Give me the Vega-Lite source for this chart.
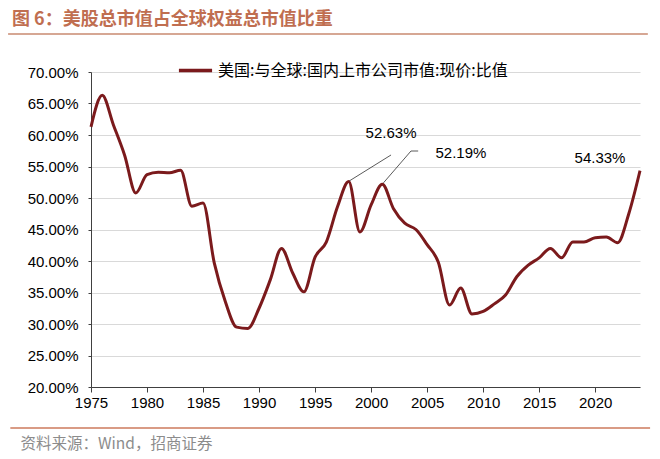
{
  "$schema": "https://vega.github.io/schema/vega-lite/v6.json",
  "autosize": {"type": "none"},
  "width": 549,
  "height": 315,
  "padding": {"left": 91, "top": 72, "right": 20, "bottom": 72},
  "background": "white",
  "config": {
    "font": "Liberation Sans, Noto Sans CJK SC",
    "view": {"stroke": null},
    "axis": {"labelFont": "Liberation Sans", "labelFontSize": 15, "labelColor": "#000000", "labelFlush": false, "labelOverlap": false}
  },
  "title": {
    "text": "图 6：美股总市值占全球权益总市值比重",
    "anchor": "start",
    "frame": "group",
    "dx": -79,
    "offset": 4,
    "font": "Noto Sans CJK SC",
    "fontSize": 18,
    "fontWeight": "bold",
    "color": "#C06E50"
  },
  "datasets": {
    "share": [
      {"year": 1975, "value": 61.3},
      {"year": 1976, "value": 66.3},
      {"year": 1977, "value": 61.6},
      {"year": 1978, "value": 56.8},
      {"year": 1979, "value": 50.8},
      {"year": 1980, "value": 53.7},
      {"year": 1981, "value": 54.1},
      {"year": 1982, "value": 54.0},
      {"year": 1983, "value": 54.4},
      {"year": 1984, "value": 48.7},
      {"year": 1985, "value": 49.2},
      {"year": 1986, "value": 39.7},
      {"year": 1987, "value": 33.5},
      {"year": 1988, "value": 29.5},
      {"year": 1989, "value": 29.3},
      {"year": 1990, "value": 32.5},
      {"year": 1991, "value": 37.0},
      {"year": 1992, "value": 42.0},
      {"year": 1993, "value": 38.1},
      {"year": 1994, "value": 35.1},
      {"year": 1995, "value": 40.6},
      {"year": 1996, "value": 43.0},
      {"year": 1997, "value": 48.6},
      {"year": 1998, "value": 52.63},
      {"year": 1999, "value": 44.6},
      {"year": 2000, "value": 48.9},
      {"year": 2001, "value": 52.19},
      {"year": 2002, "value": 48.3},
      {"year": 2003, "value": 46.0},
      {"year": 2004, "value": 45.0},
      {"year": 2005, "value": 42.6},
      {"year": 2006, "value": 39.8},
      {"year": 2007, "value": 33.0},
      {"year": 2008, "value": 35.7},
      {"year": 2009, "value": 31.6},
      {"year": 2010, "value": 32.0},
      {"year": 2011, "value": 33.2},
      {"year": 2012, "value": 34.6},
      {"year": 2013, "value": 37.5},
      {"year": 2014, "value": 39.3},
      {"year": 2015, "value": 40.5},
      {"year": 2016, "value": 42.0},
      {"year": 2017, "value": 40.5},
      {"year": 2018, "value": 43.0},
      {"year": 2019, "value": 43.0},
      {"year": 2020, "value": 43.7},
      {"year": 2021, "value": 43.8},
      {"year": 2022, "value": 42.9},
      {"year": 2023, "value": 47.5},
      {"year": 2024, "value": 54.33}
    ],
    "labels": [
      {"year": 2001.78, "value": 60.3, "label": "52.63%"},
      {"year": 2008.02, "value": 57.1, "label": "52.19%"},
      {"year": 2020.43, "value": 56.4, "label": "54.33%"}
    ],
    "leaders": [
      {"year": 1998.05, "value": 52.7, "year2": 2001.78, "value2": 56.83},
      {"year": 2001.1, "value": 52.4, "year2": 2003.56, "value2": 57.46},
      {"year": 2003.56, "value": 57.46, "year2": 2004.2, "value2": 57.46}
    ]
  },
  "layer": [
    {
      "encoding": {
        "x": {
          "field": "year",
          "type": "quantitative",
          "scale": {"domain": [1975, 2024], "nice": false, "zero": false},
          "axis": {
            "values": [1975, 1980, 1985, 1990, 1995, 2000, 2005, 2010, 2015, 2020],
            "format": "d",
            "grid": false,
            "domainColor": "#404040",
            "tickColor": "#404040",
            "tickSize": 5,
            "labelPadding": 3,
            "title": "资料来源：Wind，招商证券",
            "titleFont": "Noto Sans CJK SC",
            "titleFontSize": 15.5,
            "titleFontWeight": "normal",
            "titleColor": "#8C8C8C",
            "titleAnchor": "start",
            "titleAlign": "left",
            "titleBaseline": "middle",
            "titleX": -71,
            "titleY": 56
          }
        },
        "y": {
          "field": "value",
          "type": "quantitative",
          "scale": {"domain": [20, 70], "nice": false, "zero": false},
          "axis": {
            "values": [20, 25, 30, 35, 40, 45, 50, 55, 60, 65, 70],
            "labelExpr": "format(datum.value, '.2f') + '%'",
            "grid": true,
            "gridColor": "#D9D9D9",
            "gridWidth": 1.2,
            "domainColor": "#404040",
            "tickColor": "#404040",
            "tickSize": 3,
            "labelPadding": 10,
            "title": null
          }
        }
      },
      "layer": [
        {
          "data": {"name": "share"},
          "mark": {"type": "line", "interpolate": "monotone", "strokeWidth": 3},
          "encoding": {
            "color": {
              "datum": "美国:与全球:国内上市公司市值:现价:比值",
              "type": "nominal",
              "scale": {"range": ["#7B1A1C"]},
              "legend": {
                "title": null,
                "orient": "none",
                "legendX": 86,
                "legendY": -20,
                "symbolType": "stroke",
                "symbolSize": 1100,
                "symbolStrokeWidth": 3.5,
                "labelFont": "Noto Sans CJK SC",
                "labelFontSize": 16,
                "labelColor": "#000000",
                "labelOffset": 4,
                "labelLimit": 500
              }
            }
          }
        },
        {
          "data": {"name": "leaders"},
          "mark": {"type": "rule", "color": "#303030", "strokeWidth": 0.8},
          "encoding": {
            "x2": {"field": "year2"},
            "y2": {"field": "value2"}
          }
        },
        {
          "data": {"name": "labels"},
          "mark": {"type": "text", "font": "Liberation Sans", "fontSize": 15, "color": "#000000", "baseline": "middle", "align": "center"},
          "encoding": {
            "text": {"field": "label", "type": "nominal"}
          }
        }
      ]
    },
    {
      "data": {"values": [{}]},
      "mark": {"type": "rule", "color": "#C98A70", "strokeWidth": 1.5, "yOffset": -38},
      "encoding": {
        "x": {
          "datum": 1967.6,
          "type": "quantitative",
          "axis": {
            "values": [1975, 1980, 1985, 1990, 1995, 2000, 2005, 2010, 2015, 2020],
            "format": "d",
            "grid": false,
            "domainColor": "#404040",
            "tickColor": "#404040",
            "tickSize": 5,
            "labelPadding": 3,
            "title": "资料来源：Wind，招商证券",
            "titleFont": "Noto Sans CJK SC",
            "titleFontSize": 15.5,
            "titleFontWeight": "normal",
            "titleColor": "#8C8C8C",
            "titleAnchor": "start",
            "titleAlign": "left",
            "titleBaseline": "middle",
            "titleX": -71,
            "titleY": 56
          }
        },
        "x2": {"datum": 2024.7},
        "y": {
          "datum": 70,
          "type": "quantitative",
          "axis": {
            "values": [20, 25, 30, 35, 40, 45, 50, 55, 60, 65, 70],
            "labelExpr": "format(datum.value, '.2f') + '%'",
            "grid": true,
            "gridColor": "#D9D9D9",
            "gridWidth": 1.2,
            "domainColor": "#404040",
            "tickColor": "#404040",
            "tickSize": 3,
            "labelPadding": 10,
            "title": null
          }
        }
      }
    },
    {
      "data": {"values": [{}]},
      "mark": {"type": "rule", "color": "#CC7A5C", "strokeWidth": 1.5, "yOffset": 41},
      "encoding": {
        "x": {
          "datum": 1967.8,
          "type": "quantitative",
          "axis": {
            "values": [1975, 1980, 1985, 1990, 1995, 2000, 2005, 2010, 2015, 2020],
            "format": "d",
            "grid": false,
            "domainColor": "#404040",
            "tickColor": "#404040",
            "tickSize": 5,
            "labelPadding": 3,
            "title": "资料来源：Wind，招商证券",
            "titleFont": "Noto Sans CJK SC",
            "titleFontSize": 15.5,
            "titleFontWeight": "normal",
            "titleColor": "#8C8C8C",
            "titleAnchor": "start",
            "titleAlign": "left",
            "titleBaseline": "middle",
            "titleX": -71,
            "titleY": 56
          }
        },
        "x2": {"datum": 2024.9},
        "y": {
          "datum": 20,
          "type": "quantitative",
          "axis": {
            "values": [20, 25, 30, 35, 40, 45, 50, 55, 60, 65, 70],
            "labelExpr": "format(datum.value, '.2f') + '%'",
            "grid": true,
            "gridColor": "#D9D9D9",
            "gridWidth": 1.2,
            "domainColor": "#404040",
            "tickColor": "#404040",
            "tickSize": 3,
            "labelPadding": 10,
            "title": null
          }
        }
      }
    }
  ]
}
